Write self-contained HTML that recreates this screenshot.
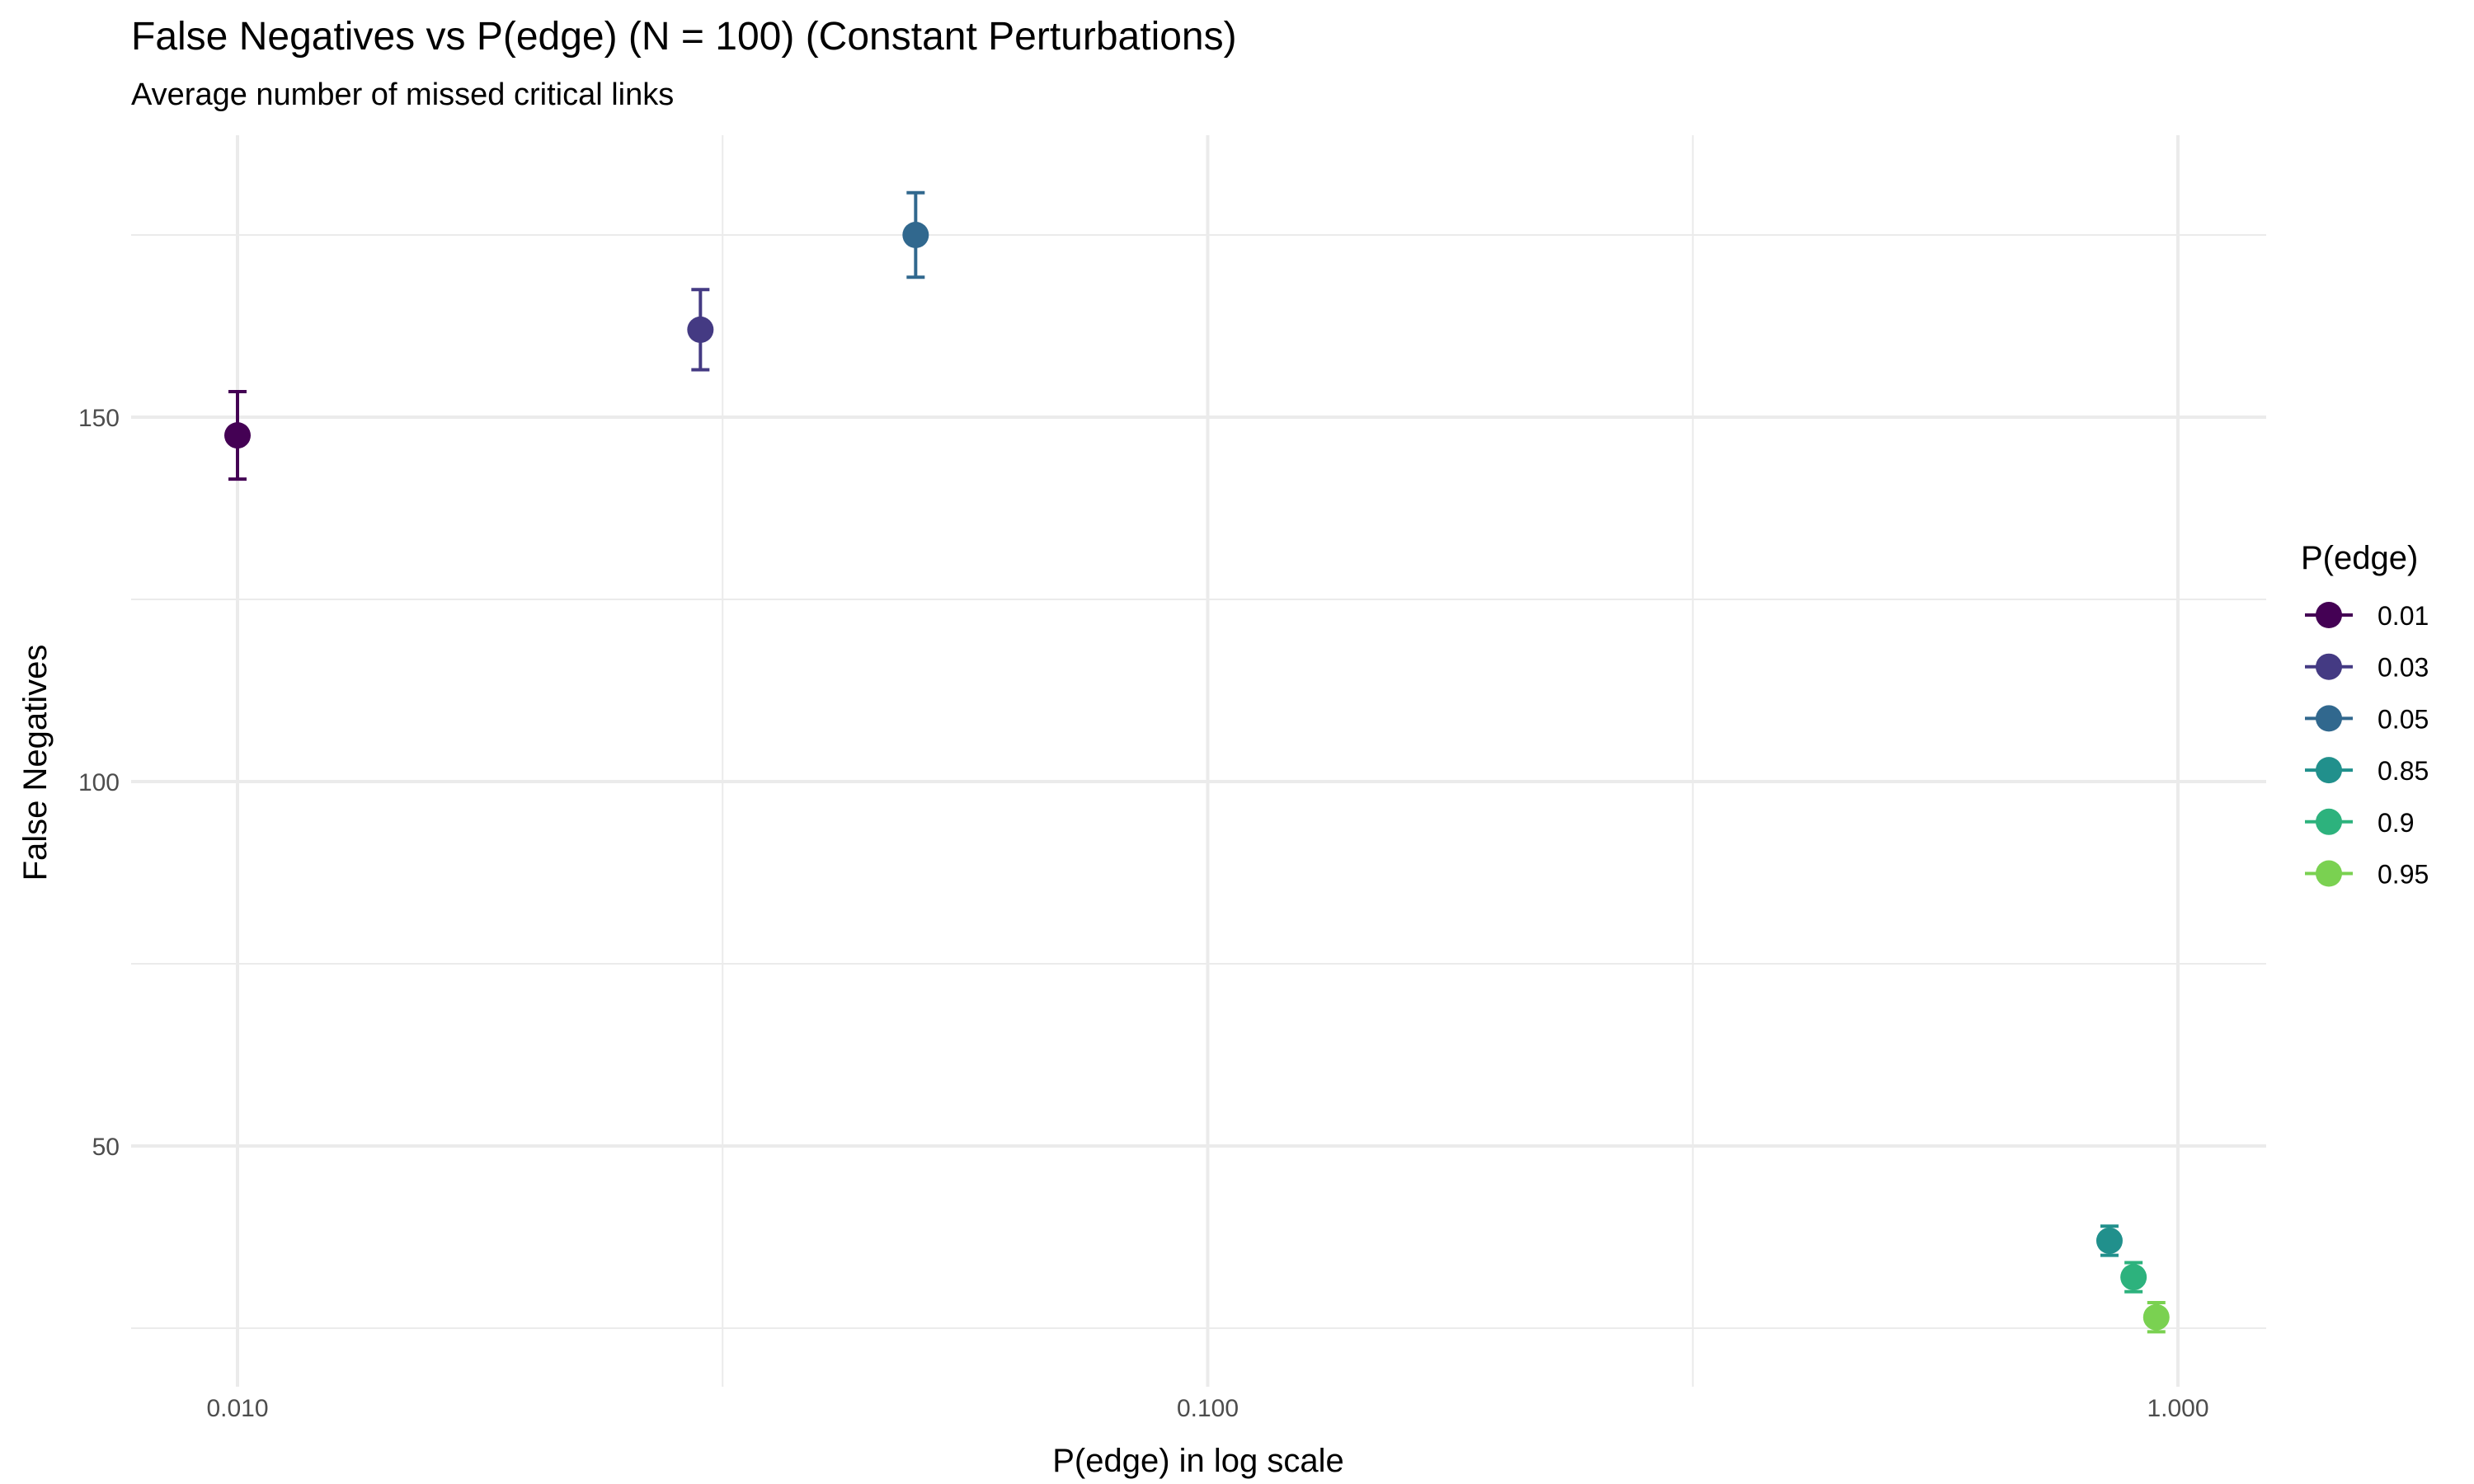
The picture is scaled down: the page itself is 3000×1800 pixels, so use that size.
<!DOCTYPE html>
<html><head><meta charset="utf-8"><style>html,body{margin:0;padding:0;background:#fff}svg{display:block;font-family:"Liberation Sans",Arial,sans-serif}</style></head>
<body>
<svg id="chart" width="3000" height="1800" viewBox="0 0 3000 1800" xmlns="http://www.w3.org/2000/svg">
<text x="159" y="60" font-size="48" fill="#000">False Negatives vs P(edge) (N = 100) (Constant Perturbations)</text>
<text x="159" y="127" font-size="38" fill="#000">Average number of missed critical links</text>
<g id="grid"></g>
<g id="axes"></g>
<g id="marks"></g>
<text x="1453" y="1785" font-size="40" text-anchor="middle" fill="#000">P(edge) in log scale</text>
<text x="0" y="0" font-size="40" text-anchor="middle" fill="#000" transform="translate(56,925) rotate(-90)">False Negatives</text>
<g id="legend">
<text x="2790" y="690" font-size="40" fill="#000">P(edge)</text>
</g>
</svg>
<script>
const categories = ["0.01","0.03","0.05","0.85","0.9","0.95"];
const pEdge = [0.01, 0.03, 0.05, 0.85, 0.9, 0.95];
const meanFN = [147.5, 162, 175, 37, 32, 26.5];
const errFN = [6, 5.5, 5.8, 2, 2, 2];
const colors = ["#440154","#443A83","#31688E","#21908C","#2DB27D","#7AD151"];
const yTicks = [50, 100, 150];
const yMinor = [25, 75, 125, 175];
const xTicks = [0.01, 0.1, 1];
const xTickLabels = ["0.010","0.100","1.000"];
const xMinor = [0.0316228, 0.316228];

const NS = "http://www.w3.org/2000/svg";
const PL = 159, PR = 2748, PT = 164, PB = 1682;
function xs(v){ return 288 + 1176.5 * Math.log10(v / 0.01); }
function ys(v){ return 948 - (v - 100) * 8.84; }
function mk(tag, attrs, parent){ const e = document.createElementNS(NS, tag); for (const k in attrs) e.setAttribute(k, attrs[k]); parent.appendChild(e); return e; }

const grid = document.getElementById('grid');
yMinor.forEach(v => { const l = mk('line', {x1:PL, x2:PR, y1:ys(v), y2:ys(v), stroke:'#ebebeb', 'stroke-width':2}, grid);
  
   });
xMinor.forEach(v => { const l = mk('line', {x1:xs(v), x2:xs(v), y1:PT, y2:PB, stroke:'#ebebeb', 'stroke-width':2}, grid);
  
   });
yTicks.forEach(v => { const l = mk('line', {x1:PL, x2:PR, y1:ys(v), y2:ys(v), stroke:'#ebebeb', 'stroke-width':4}, grid);
  
   });
xTicks.forEach(v => { const l = mk('line', {x1:xs(v), x2:xs(v), y1:PT, y2:PB, stroke:'#ebebeb', 'stroke-width':4}, grid);
  
   });

const axes = document.getElementById('axes');
yTicks.forEach(v => { const t = mk('text', {x:145, y:ys(v)+11, 'font-size':30, fill:'#4d4d4d', 'text-anchor':'end'}, axes); t.textContent = v;
  
   });
xTicks.forEach((v,i) => { const t = mk('text', {x:xs(v), y:1718, 'font-size':30, fill:'#4d4d4d', 'text-anchor':'middle'}, axes); t.textContent = xTickLabels[i];
  
   });

const marks = document.getElementById('marks');
categories.forEach((c,i) => {
  const g = mk('g', {}, marks);
  
  
  const x = xs(pEdge[i]), y0 = ys(meanFN[i]-errFN[i]), y1 = ys(meanFN[i]+errFN[i]);
  const col = colors[i];
  const v = mk('line', {x1:x, x2:x, y1:y0, y2:y1, stroke:col, 'stroke-width':4}, g);
  
  
  [y0, y1].forEach(yy => { const cap = mk('line', {x1:x-11, x2:x+11, y1:yy, y2:yy, stroke:col, 'stroke-width':4}, g);
    
     });
  const p = mk('circle', {cx:x, cy:ys(meanFN[i]), r:16, fill:col}, g);
  
  
});

const legend = document.getElementById('legend');
categories.forEach((c,i) => {
  const y = 746 + i * 62.7;
  const g = mk('g', {}, legend);
  
  
  mk('line', {x1:2795, x2:2853, y1:y, y2:y, stroke:colors[i], 'stroke-width':4}, g);
  mk('circle', {cx:2824, cy:y, r:16, fill:colors[i]}, g);
  const t = mk('text', {x:2883, y:y+12, 'font-size':32, fill:'#000'}, g); t.textContent = c;
});
</script>
</body></html>
